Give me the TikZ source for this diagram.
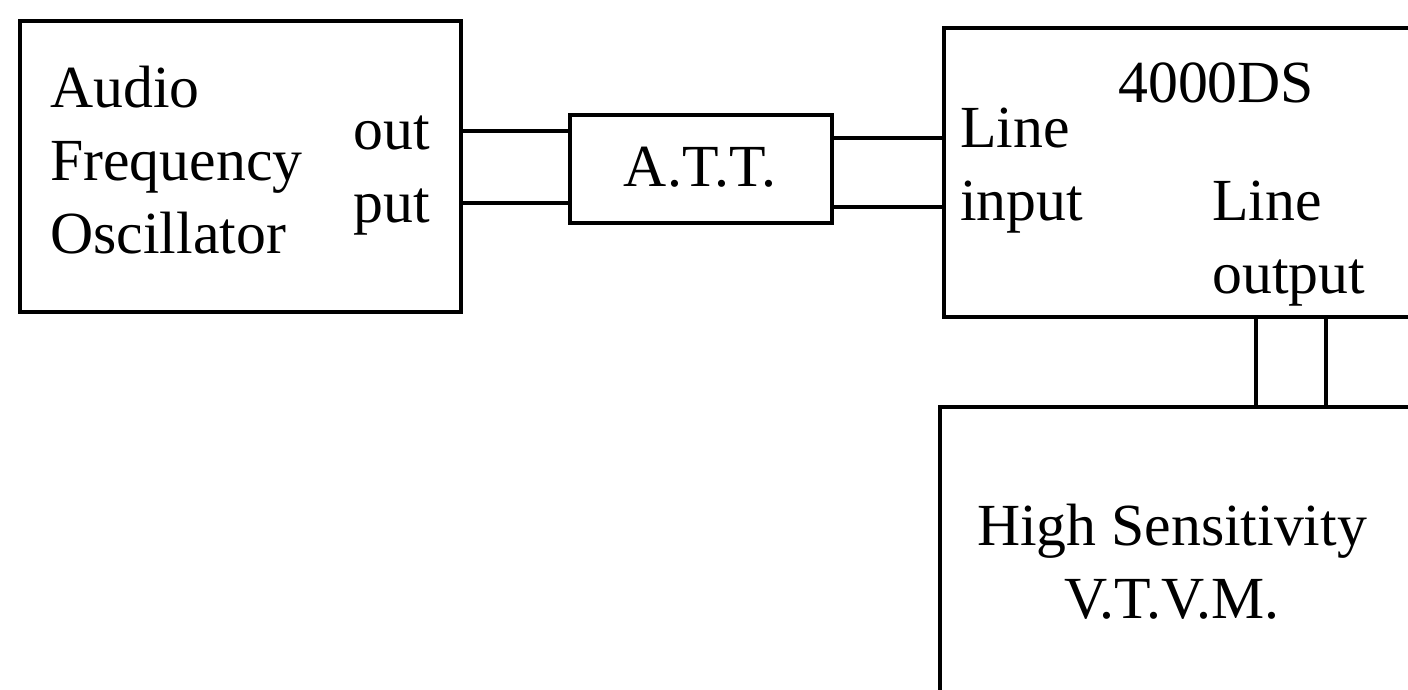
\documentclass[tikz,border=0pt]{standalone}
\usepackage{fontspec}
\setmainfont{Liberation Serif}
\usetikzlibrary{positioning}

\begin{document}
\begin{tikzpicture}
  [
   x=0.02cm, y=-0.02cm,
   box/.style={rectangle,draw,line width=1.9pt,inner sep=0pt},
   lbl/.style={anchor=base west,inner sep=0pt,align=left,font=\fontsize{34}{41.5}\selectfont},
   wire/.style={line width=1.9pt}
  ]
   \useasboundingbox (0,0) rectangle (1408,689);

   \node[box,minimum width=8.82cm,minimum height=5.82cm] (afo) at (240.5,166.5) {};
   \node[box,minimum width=5.24cm,minimum height=2.16cm] (att) at (701,169) {};
   \node[box,minimum width=10.12cm,minimum height=5.78cm] (ds) at (1197,172.5) {};
   \node[box,minimum width=10.2cm,minimum height=7.06cm] (vtvm) at (1195,583.5) {};

   % base anchor of a multi-line label sits on its last line
   \node[lbl] (afotext) at (50,253) {Audio\\Frequency\\Oscillator};
   \node[lbl] (afoout) at (353,222) {out\\put};
   \node[lbl,anchor=base] (atttext) at (700,187) {A.T.T.};
   \node[lbl] (dsname) at (1118,103) {4000DS};
   \node[lbl] (dsin) at (960,220) {Line\\input};
   \node[lbl] (dsout) at (1212,293) {Line\\output};
   \node[lbl,anchor=base,align=center] (vtvmtext) at (1172,618) {High Sensitivity\\V.T.V.M.};

   \draw[wire] (afo.east |- 0,131) -- (att.west |- 0,131);
   \draw[wire] (afo.east |- 0,203) -- (att.west |- 0,203);
   \draw[wire] (att.east |- 0,138) -- (ds.west |- 0,138);
   \draw[wire] (att.east |- 0,207) -- (ds.west |- 0,207);
   \draw[wire] (ds.south -| 1256,0) -- (vtvm.north -| 1256,0);
   \draw[wire] (ds.south -| 1326,0) -- (vtvm.north -| 1326,0);

\end{tikzpicture}
\end{document}
